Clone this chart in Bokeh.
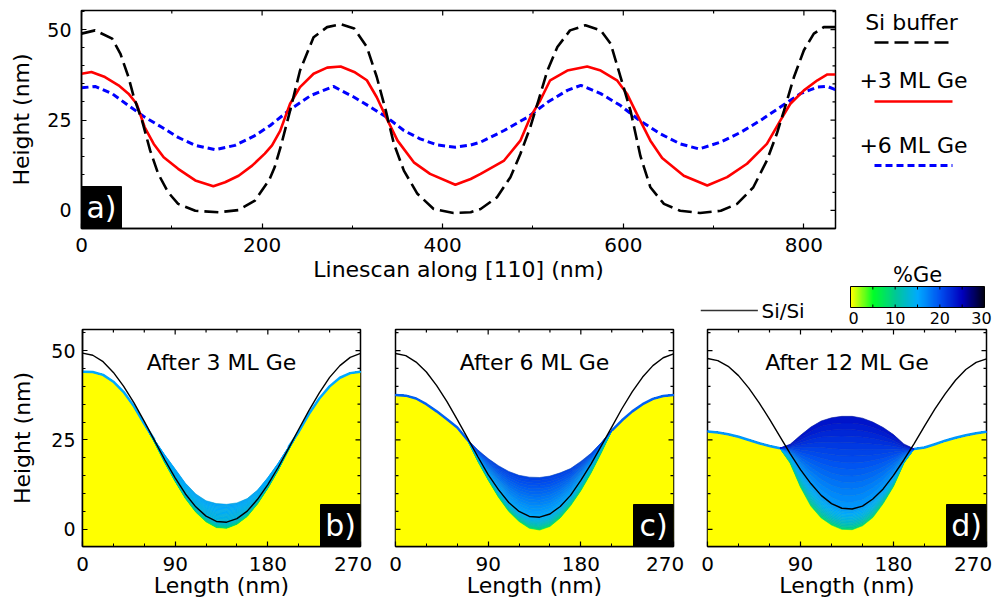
import numpy as np
from bokeh.plotting import figure
from bokeh.layouts import row, column
from bokeh.models import Range1d, LinearAxis, SingleIntervalTicker, LinearColorMapper, ColumnDataSource
from bokeh.transform import transform
from bokeh.core.properties import value
from bokeh.embed import file_html
from bokeh.resources import INLINE

FONT = "DejaVu Sans"

# ---------------- (a) linescans along [110] ----------------
si_buffer_x = [0, 15, 34, 43, 52, 58, 67, 76, 85, 96, 107, 126, 152, 174, 192, 208, 214, 221, 231, 242,
               257, 272, 287, 302, 316, 327, 337, 346, 357, 372, 390, 412, 431, 442, 460, 475, 486, 497, 506, 516,
               527, 541, 558, 575, 586, 597, 608, 619, 630, 645, 663, 685, 708, 726, 744, 759, 770, 778, 789, 800,
               811, 822, 835]
si_buffer_y = [48.9, 49.8, 47.5, 43.4, 36.9, 31.3, 24.9, 16.6, 10.1, 5.0, 1.8, -0.1, -0.5, 0.1, 2.7, 8.5, 12.0, 18.0, 27.6, 38.7,
               47.9, 50.7, 51.5, 50.3, 45.2, 36.9, 27.6, 18.4, 11.0, 4.6, 0.4, -0.7, -0.5, 0.4, 3.6, 9.2, 15.6, 23.0, 30.4, 38.7,
               45.2, 49.8, 51.2, 49.8, 46.1, 36.9, 27.6, 15.0, 6.4, 1.8, -0.1, -0.7, -0.1, 1.8, 6.4, 13.8, 21.2, 27.6, 36.9, 44.3,
               48.9, 50.7, 50.7]
ml3_x = [0, 11, 26, 41, 52, 61, 70, 80, 91, 107, 126, 146, 159, 174, 189, 203, 211, 220, 231, 242,
         257, 272, 287, 302, 316, 327, 339, 350, 368, 386, 414, 431, 442, 468, 486, 497, 508, 519, 538, 560,
         575, 593, 604, 615, 630, 643, 667, 693, 715, 737, 759, 774, 785, 800, 815, 826, 835]
ml3_y = [37.8, 38.3, 36.9, 34.6, 32.3, 29.5, 23.0, 18.4, 14.7, 11.5, 8.3, 6.7, 7.8, 9.6, 12.4, 15.7, 18.0, 22.0, 29.5, 34.1,
         37.8, 39.5, 39.8, 38.3, 36.0, 31.3, 24.9, 19.3, 13.3, 10.1, 7.1, 8.7, 10.1, 13.8, 19.3, 25.8, 30.4, 36.0, 38.7, 39.8,
         38.7, 36.0, 32.3, 26.7, 19.3, 14.5, 9.6, 6.9, 9.2, 12.9, 18.4, 24.9, 29.5, 33.2, 36.0, 37.6, 37.6]
ml6_x = [0, 15, 34, 52, 70, 89, 107, 126, 148, 170, 192, 209, 232, 254, 279, 302, 320, 339, 357, 375,
         394, 414, 431, 442, 468, 494, 516, 538, 553, 575, 597, 619, 641, 663, 684, 708, 730, 752, 774, 796,
         815, 826, 835]
ml6_y = [33.9, 34.3, 32.3, 29.0, 25.8, 23.0, 20.2, 18.0, 16.8, 18.0, 20.7, 23.5, 28.1, 31.8, 34.3, 31.3, 28.6, 25.6, 22.1, 19.8,
         18.1, 17.5, 18.1, 18.9, 22.1, 25.8, 29.9, 33.2, 34.6, 32.3, 29.0, 24.7, 21.2, 18.4, 17.0, 18.9, 21.6, 24.9, 28.6, 32.3,
         34.1, 34.3, 33.4]
series_labels = ["Si buffer", "+3 ML Ge", "+6 ML Ge"]

# ---------------- (b)-(d) simulated cross sections ----------------
length_nm = list(range(0, 271, 10))
sisi_b = [49.3, 48.7, 46.9, 43.9, 40.0, 35.4, 30.2, 24.8, 19.4, 14.4, 9.9, 6.3, 3.7, 2.2, 2.0, 3.0, 5.1, 8.4, 12.5, 17.3,
          22.6, 28.0, 33.3, 38.2, 42.5, 45.8, 48.1, 49.2]
surf_b = [44.1, 44.0, 43.2, 41.3, 38.4, 34.4, 29.5, 25.0, 20.8, 16.9, 12.9, 9.9, 8.0, 7.2, 7.0, 7.4, 8.6, 11.0, 14.5, 18.5,
          23.0, 27.3, 32.3, 36.6, 40.0, 42.4, 43.7, 44.1]
base_b = [44.1, 44.0, 43.2, 41.3, 38.4, 34.4, 29.5, 24.3, 18.6, 13.4, 8.6, 4.8, 2.1, 0.5, 0.3, 1.4, 3.6, 7.1, 11.5, 16.5,
          22.1, 27.3, 32.3, 36.6, 40.0, 42.4, 43.7, 44.1]
sisi_c = [49.2, 48.6, 46.8, 44.0, 40.2, 35.7, 30.7, 25.5, 20.3, 15.3, 11.1, 7.5, 5.0, 3.6, 3.4, 4.3, 6.4, 9.5, 13.7, 18.3,
          23.4, 28.6, 33.8, 38.5, 42.6, 45.8, 48.0, 49.1]
surf_c = [37.6, 37.4, 36.6, 35.0, 33.0, 30.8, 28.5, 25.0, 22.2, 19.8, 17.8, 16.2, 15.1, 14.6, 14.5, 14.9, 15.8, 17.0, 19.0, 21.3,
          24.3, 27.6, 30.5, 33.0, 35.0, 36.5, 37.3, 37.6]
base_c = [37.6, 37.4, 36.6, 35.0, 33.0, 30.8, 28.5, 25.0, 19.0, 13.8, 9.0, 5.0, 2.2, 0.3, -0.2, 0.8, 3.2, 6.6, 10.8, 15.8,
          21.5, 27.6, 30.5, 33.0, 35.0, 36.5, 37.3, 37.6]
sisi_d = [47.8, 47.2, 45.6, 43.0, 39.5, 35.4, 30.8, 26.0, 21.2, 16.7, 12.8, 9.5, 7.2, 5.9, 5.7, 6.5, 8.5, 11.3, 15.1, 19.4,
          24.0, 28.9, 33.6, 37.9, 41.7, 44.7, 46.7, 47.7]
surf_d = [27.4, 27.1, 26.6, 25.9, 25.0, 24.1, 23.3, 22.7, 23.8, 26.3, 28.6, 30.3, 31.2, 31.6, 31.6, 31.1, 30.0, 28.5, 26.5, 23.9,
          22.5, 22.9, 23.8, 24.8, 25.6, 26.3, 26.9, 27.3]
base_d = [27.4, 27.1, 26.6, 25.9, 25.0, 24.1, 23.3, 22.7, 18.5, 11.8, 6.5, 3.2, 1.2, 0.0, -0.1, 1.0, 3.3, 7.2, 12.0, 18.5,
          22.5, 22.9, 23.8, 24.8, 25.6, 26.3, 26.9, 27.3]
panel_titles = ["After 3 ML Ge", "After 6 ML Ge", "After 12 ML Ge"]
panel_tags = ["b)", "c)", "d)"]
ge_at_base = [4.0, 4.0, 5.0]     # %Ge at the bottom of the alloyed zone
ge_at_sisi = [13.5, 15.0, 16.0]  # %Ge at the original Si/Si interface
ge_at_top = [15.5, 21.0, 24.0]   # %Ge at the free surface (valley)
ge_skin = [15.0, 19.0, 16.0]     # %Ge of the thin wetting skin on the ridges

# colour scale (%Ge)
cmap_pos = [0, 5, 10, 15, 20, 25, 30]
cmap_hex = ["#ffff00", "#00ff28", "#00c896", "#00aaff", "#0050f0", "#0000be", "#000014"]
cbar_ticks = [0, 10, 20, 30]

rgb = np.array([[int(h[i:i + 2], 16) for i in (1, 3, 5)] for h in cmap_hex], float)
palette = ["#%02x%02x%02x" % tuple(int(round(np.interp(v, cmap_pos, rgb[:, k]))) for k in range(3))
           for v in np.linspace(0, 30, 256)]
mapper = LinearColorMapper(palette=palette, low=0, high=30)


def ge_color(c):
    return palette[int(round(c / 30 * 255))]


def tick_style(ax, label_px, standoff):
    ax.major_tick_in = 5
    ax.major_tick_out = 0
    ax.minor_tick_in = 3
    ax.minor_tick_out = 0
    ax.axis_line_color = "black"
    ax.axis_line_width = 1.5
    ax.major_tick_line_color = "black"
    ax.minor_tick_line_color = "black"
    ax.major_tick_line_width = 1.2
    ax.minor_tick_line_width = 1.0
    ax.major_label_text_font = FONT
    ax.major_label_text_font_size = f"{label_px}px"
    ax.major_label_text_color = "black"
    ax.major_label_standoff = standoff
    ax.axis_label_text_font = FONT
    ax.axis_label_text_font_style = "normal"
    ax.axis_label_text_color = "black"


def mirror_ticks(p, xr, yr, xmaj, xmin, ymaj, ymin, sx, sy):
    """inward ticks on the top and right edges of the frame"""
    x0, x1 = xr
    y0, y1 = yr
    for vals, L in ((xmaj, 5), (xmin, 3)):
        p.segment(x0=vals, y0=[y1] * len(vals), x1=vals, y1=[y1 - L * sy] * len(vals),
                  line_color="black", line_width=1.2)
    for vals, L in ((ymaj, 5), (ymin, 3)):
        p.segment(x0=[x1] * len(vals), y0=vals, x1=[x1 - L * sx] * len(vals), y1=vals,
                  line_color="black", line_width=1.2)


def tag_box(p, x0, x1, y0, y1, tag):
    p.quad(left=[x0], right=[x1], bottom=[y0], top=[y1], fill_color="black", line_color="black")
    p.text(x=[(x0 + x1) / 2], y=[(y0 + y1) / 2], text=[tag], text_color="white",
           text_font=value(FONT), text_font_size="30px", text_align="center", text_baseline="middle")


# ---------------- panel (a) ----------------
TOP_W, TOP_H = 845, 290
A_L, A_R, A_T, A_B = 81, 10, 10, 62
ax0, ax1, ay0, ay1 = 0, 835, -5.0, 55.3
p_top = figure(width=TOP_W, height=TOP_H, x_range=Range1d(ax0, ax1), y_range=Range1d(ay0, ay1),
               x_axis_type=None, y_axis_type=None, output_backend="svg", toolbar_location=None,
               min_border_left=A_L, min_border_right=A_R, min_border_top=A_T, min_border_bottom=A_B,
               outline_line_color="black", outline_line_width=1.5)
p_top.line(ml6_x, ml6_y, line_color="#0000ff", line_width=3, line_dash="7 4")
p_top.line(ml3_x, ml3_y, line_color="#ff0000", line_width=2.6)
p_top.line(si_buffer_x, si_buffer_y, line_color="black", line_width=2.6, line_dash="14 6")

xa = LinearAxis(ticker=SingleIntervalTicker(interval=200, num_minor_ticks=2), axis_label="Linescan along [110] (nm)")
tick_style(xa, 20, 9)
xa.axis_label_text_font_size = "22px"
xa.axis_label_standoff = 2
p_top.add_layout(xa, "below")
ya = LinearAxis(ticker=SingleIntervalTicker(interval=25, num_minor_ticks=5), axis_label="Height (nm)")
tick_style(ya, 19, 10)
ya.axis_label_text_font_size = "22px"
ya.axis_label_standoff = 10
p_top.add_layout(ya, "left")
sx = (ax1 - ax0) / (TOP_W - A_L - A_R)
sy = (ay1 - ay0) / (TOP_H - A_T - A_B)
mirror_ticks(p_top, (ax0, ax1), (ay0, ay1), [0, 200, 400, 600, 800], [100, 300, 500, 700],
             [0, 25, 50], [v for v in range(-5, 56, 5) if v % 25], sx, sy)
tag_box(p_top, ax0, ax0 + 40 * sx, ay0, ay0 + 42 * sy, "a)")

# strip under panel (a) with the Si/Si key  (page y 290..328)
p_sisi = figure(width=845, height=38, x_range=Range1d(0, 845), y_range=Range1d(0, 38),
                x_axis_type=None, y_axis_type=None, output_backend="svg", toolbar_location=None,
                min_border=0, outline_line_color=None)
p_sisi.line([694, 758], [18, 18], line_color="#333333", line_width=1.5)
p_sisi.text(x=[762], y=[18], text=["Si/Si"], text_font=value(FONT), text_font_size="20px",
            text_align="left", text_baseline="middle", text_color="black")

# right column: legend of (a) + colour bar   (page x 845..998, y 0..328)
p_right = figure(width=153, height=328, x_range=Range1d(0, 153), y_range=Range1d(0, 328),
                 x_axis_type=None, y_axis_type=None, output_backend="svg", toolbar_location=None,
                 min_border=0, outline_line_color=None)
p_right.text(x=[66, 68, 68], y=[306, 248, 183], text=series_labels, text_font=value(FONT),
             text_font_size="22px", text_align="center", text_baseline="middle", text_color="black")
p_right.line([29, 105], [286, 286], line_color="black", line_width=2.6, line_dash="14 6")
p_right.line([29, 107], [227, 227], line_color="#ff0000", line_width=2.6)
p_right.line([29, 107], [163, 163], line_color="#0000ff", line_width=3, line_dash="7 4")
cb_x0, cb_w, cb_y0, cb_h = 5, 134, 21, 21
p_right.image(image=[np.array([np.linspace(0, 30, 268)])], x=cb_x0, y=cb_y0, dw=cb_w, dh=cb_h,
              color_mapper=mapper)
p_right.quad(left=[cb_x0], right=[cb_x0 + cb_w], bottom=[cb_y0], top=[cb_y0 + cb_h],
             fill_color=None, line_color="black", line_width=1)
minor_v = [5, 10, 15, 20, 25]
tx = [cb_x0 + cb_w * v / 30 for v in minor_v]
p_right.segment(x0=tx, y0=[cb_y0] * len(tx), x1=tx, y1=[cb_y0 + 3] * len(tx), line_color="black", line_width=1)
p_right.segment(x0=tx, y0=[cb_y0 + cb_h] * len(tx), x1=tx, y1=[cb_y0 + cb_h - 3] * len(tx),
                line_color="black", line_width=1)
p_right.text(x=[cb_x0 + cb_w * v / 30 for v in cbar_ticks], y=[11] * len(cbar_ticks),
             text=[str(v) for v in cbar_ticks], x_offset=[3, 0, 0, -3], text_font=value(FONT),
             text_font_size="16px", text_align="center", text_baseline="middle", text_color="black")
p_right.text(x=[72], y=[54], text=["%Ge"], text_font=value(FONT), text_font_size="21px",
             text_align="center", text_baseline="middle", text_color="black")


# ---------------- panels (b)-(d) ----------------
def alloy_source(x, base, line, surf, cb, cl, ct, n=14):
    x = np.asarray(x, float)
    base = np.asarray(base, float)
    surf = np.asarray(surf, float)
    mid = np.clip(np.asarray(line, float), base, surf)
    xs, ys, ge = [], [], []
    xx = np.concatenate([x, x[::-1]])
    for k in range(n):
        f0, f1 = k / n, (k + 1) / n
        lo, hi = base + (mid - base) * f0, base + (mid - base) * f1
        xs.append(xx)
        ys.append(np.concatenate([lo, hi[::-1]]))
        ge.append(cb + (cl - cb) * ((f0 + f1) / 2) ** 0.35)
    for k in range(n):
        f0, f1 = k / n, (k + 1) / n
        lo, hi = mid + (surf - mid) * f0, mid + (surf - mid) * f1
        xs.append(xx)
        ys.append(np.concatenate([lo, hi[::-1]]))
        ge.append(cl + (ct - cl) * (f0 + f1) / 2)
    return ColumnDataSource(dict(xs=xs, ys=ys, ge=ge))


BOT_H, B_T, B_B = 276, 1, 58
by0, by1 = -4.8, 55.9
panels = []
specs = [(378, 82, 18, sisi_b, surf_b, base_b, True),
         (312, 17, 17, sisi_c, surf_c, base_c, False),
         (308, 17, 12, sisi_d, surf_d, base_d, False)]
for i, (w, ml, mr, sisi, surf, base, show_y) in enumerate(specs):
    p = figure(width=w, height=BOT_H, x_range=Range1d(0, 270), y_range=Range1d(by0, by1),
               x_axis_type=None, y_axis_type=None, output_backend="svg", toolbar_location=None,
               min_border_left=ml, min_border_right=mr, min_border_top=B_T, min_border_bottom=B_B,
               outline_line_color="black", outline_line_width=1.5)
    x = np.asarray(length_nm, float)
    p.varea(x=x, y1=by0, y2=surf, fill_color=palette[0])
    src = alloy_source(x, base, sisi, surf, ge_at_base[i], ge_at_sisi[i], ge_at_top[i])
    p.patches("xs", "ys", source=src, fill_color=transform("ge", mapper),
              line_color=transform("ge", mapper), line_width=0.6)
    skin = np.where(np.asarray(surf) - np.asarray(base) > 1.0, np.nan, surf)
    p.line(x, skin, line_color=ge_color(ge_skin[i]), line_width=2.5)
    p.line(x, sisi, line_color="black", line_width=1.4)
    p.text(x=[135], y=[46.7], text=[panel_titles[i]], text_font=value(FONT), text_font_size="22px",
           text_align="center", text_baseline="middle", text_color="black")
    fw = w - ml - mr
    fh = BOT_H - B_T - B_B
    bsx = 270 / fw
    bsy = (by1 - by0) / fh
    tag_box(p, 270 - 40 * bsx, 270, by0, by0 + 42 * bsy, panel_tags[i])

    xb = LinearAxis(ticker=SingleIntervalTicker(interval=90, num_minor_ticks=3), axis_label="Length (nm)")
    tick_style(xb, 20, 5)
    xb.axis_label_text_font_size = "22px"
    xb.axis_label_standoff = -6
    xb.major_label_overrides = {270: "270\u00a0"}
    p.add_layout(xb, "below")
    if show_y:
        yb = LinearAxis(ticker=SingleIntervalTicker(interval=25, num_minor_ticks=5), axis_label="Height (nm)")
        tick_style(yb, 19, 7)
        yb.axis_label_text_font_size = "22px"
        yb.axis_label_standoff = 13
        p.add_layout(yb, "left")
    else:
        # inward ticks on the left edge of panels without a labelled y axis
        for vals, L in (([0, 25, 50], 5), ([v for v in range(0, 56, 5) if v % 25], 3)):
            p.segment(x0=[0] * len(vals), y0=vals, x1=[L * bsx] * len(vals), y1=vals,
                      line_color="black", line_width=1.2)
    mirror_ticks(p, (0, 270), (by0, by1), [0, 90, 180, 270], [30, 60, 120, 150, 210, 240],
                 [0, 25, 50], [v for v in range(0, 56, 5) if v % 25], bsx, bsy)
    panels.append(p)

layout = column(row(column(p_top, p_sisi), p_right), row(*panels))
with open("out.html", "w") as f:
    f.write(file_html(layout, INLINE, title="Linescans and Ge distribution"))
